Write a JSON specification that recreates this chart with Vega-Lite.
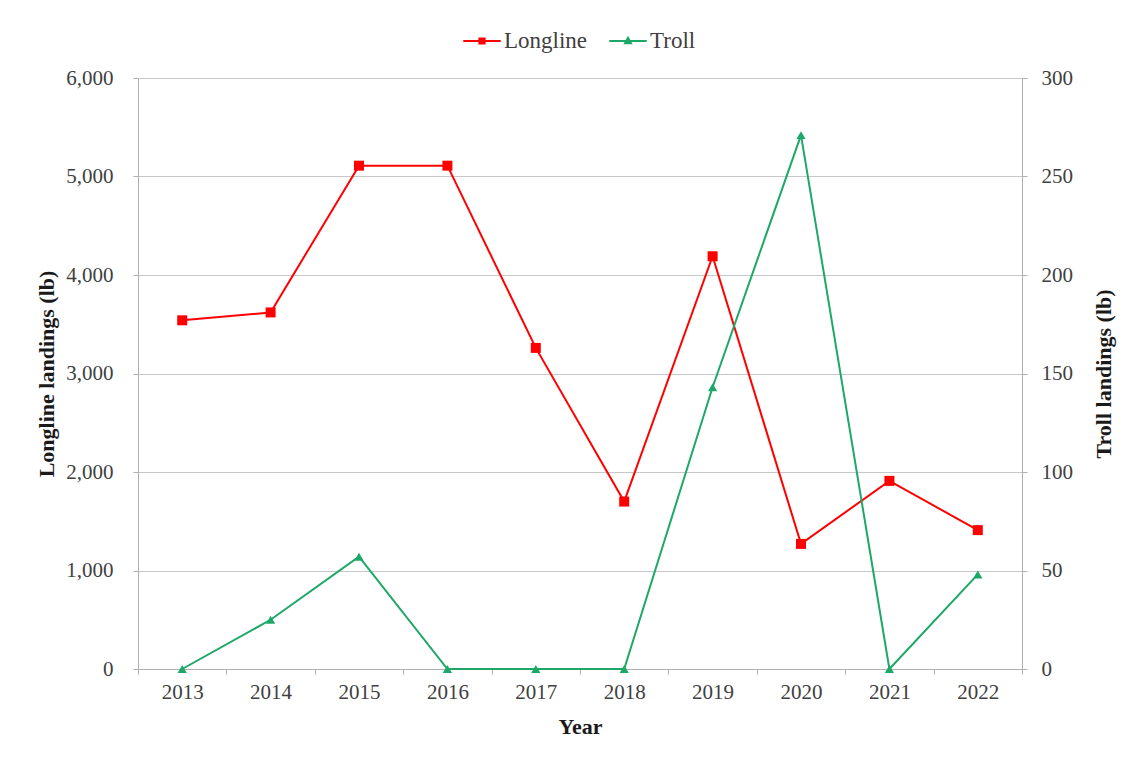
{
  "$schema": "https://vega.github.io/schema/vega-lite/v6.json",
  "autosize": {"type": "none"},
  "width": 884,
  "height": 591,
  "padding": {"left": 138, "top": 78, "right": 108, "bottom": 89},
  "background": "white",
  "config": {
    "view": {"stroke": null},
    "font": "Liberation Serif",
    "axis": {
      "labelFont": "Liberation Serif",
      "titleFont": "Liberation Serif",
      "labelFontSize": 21,
      "titleFontSize": 22,
      "labelColor": "#404040",
      "titleColor": "#1a1a1a",
      "titleFontWeight": "bold",
      "domainColor": "#b0b0b0",
      "tickColor": "#b0b0b0",
      "gridColor": "#c8c8c8",
      "tickSize": 5
    }
  },
  "data": {
    "values": [
      {"Year": "2013", "Gear": "Longline", "Landings": 3540},
      {"Year": "2014", "Gear": "Longline", "Landings": 3620},
      {"Year": "2015", "Gear": "Longline", "Landings": 5110},
      {"Year": "2016", "Gear": "Longline", "Landings": 5110},
      {"Year": "2017", "Gear": "Longline", "Landings": 3260},
      {"Year": "2018", "Gear": "Longline", "Landings": 1700},
      {"Year": "2019", "Gear": "Longline", "Landings": 4190},
      {"Year": "2020", "Gear": "Longline", "Landings": 1270},
      {"Year": "2021", "Gear": "Longline", "Landings": 1910},
      {"Year": "2022", "Gear": "Longline", "Landings": 1410},
      {"Year": "2013", "Gear": "Troll", "Landings": 0},
      {"Year": "2014", "Gear": "Troll", "Landings": 25},
      {"Year": "2015", "Gear": "Troll", "Landings": 57},
      {"Year": "2016", "Gear": "Troll", "Landings": 0},
      {"Year": "2017", "Gear": "Troll", "Landings": 0},
      {"Year": "2018", "Gear": "Troll", "Landings": 0},
      {"Year": "2019", "Gear": "Troll", "Landings": 143},
      {"Year": "2020", "Gear": "Troll", "Landings": 271},
      {"Year": "2021", "Gear": "Troll", "Landings": 0},
      {"Year": "2022", "Gear": "Troll", "Landings": 48}
    ]
  },
  "encoding": {
    "x": {
      "field": "Year",
      "type": "ordinal",
      "bandPosition": 0.5,
      "scale": {"type": "band", "paddingInner": 0, "paddingOuter": 0},
      "axis": {
        "title": "Year",
        "labelAngle": 0,
        "tickBand": "extent",
        "labelPadding": 7,
        "titlePadding": 14,
        "grid": false
      }
    },
    "color": {
      "field": "Gear",
      "type": "nominal",
      "scale": {"domain": ["Longline", "Troll"], "range": ["#ff0000", "#1ea868"]},
      "legend": {
        "title": null,
        "orient": "none",
        "direction": "horizontal",
        "legendX": 324,
        "legendY": -57,
        "symbolSize": 1400,
        "labelFont": "Liberation Serif",
        "labelFontSize": 23,
        "labelColor": "#404040",
        "labelOffset": 2,
        "columnPadding": 17,
        "encode": {
          "symbols": {
            "update": {
              "shape": {"signal": "datum.value === 'Longline' ? 'M-1,0H1M-0.14,-0.14H0.14V0.14H-0.14Z' : 'M-1,0H1M0,-0.17L0.16,0.12H-0.16Z'"},
              "fill": {"signal": "datum.value === 'Longline' ? '#ff0000' : '#1ea868'"},
              "stroke": {"signal": "datum.value === 'Longline' ? '#ff0000' : '#1ea868'"},
              "strokeWidth": {"value": 2},
              "opacity": {"value": 1},
              "fillOpacity": {"value": 1}
            }
          }
        }
      }
    }
  },
  "layer": [
    {
      "transform": [{"filter": "datum.Gear === 'Longline'"}],
      "mark": {"type": "line", "strokeWidth": 2, "point": {"shape": "square", "size": 100, "filled": true, "opacity": 1}},
      "encoding": {
        "y": {
          "field": "Landings",
          "type": "quantitative",
          "scale": {"domain": [0, 6000], "nice": false},
          "axis": {
            "title": "Longline landings (lb)",
            "orient": "left",
            "values": [0, 1000, 2000, 3000, 4000, 5000, 6000],
            "format": ",d",
            "grid": true,
            "labelPadding": 20,
            "titlePadding": 7
          }
        }
      }
    },
    {
      "transform": [{"filter": "datum.Gear === 'Troll'"}],
      "mark": {"type": "line", "strokeWidth": 2, "point": {"shape": "triangle-up", "size": 85, "filled": true, "opacity": 1}},
      "encoding": {
        "y": {
          "field": "Landings",
          "type": "quantitative",
          "scale": {"domain": [0, 300], "nice": false},
          "axis": {
            "title": "Troll landings (lb)",
            "orient": "right",
            "titleAngle": -90,
            "values": [0, 50, 100, 150, 200, 250, 300],
            "grid": false,
            "labelPadding": 14,
            "titlePadding": 43
          }
        }
      }
    }
  ],
  "resolve": {"scale": {"y": "independent"}}
}
